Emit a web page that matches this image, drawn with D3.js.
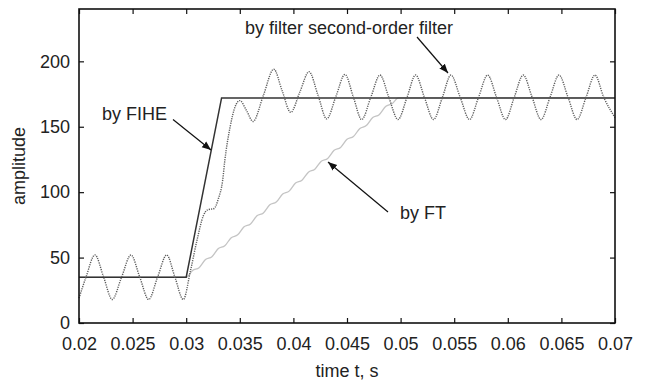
<!DOCTYPE html>
<html><head><meta charset="utf-8">
<script src="https://cdn.jsdelivr.net/npm/d3@7/dist/d3.min.js"></script>
<style>
html,body{margin:0;padding:0;background:#fff;}
svg text{font-family:"Liberation Sans",Arial,Helvetica,sans-serif;}
</style></head>
<body><svg id="c" width="646" height="381"></svg>
<script>
// ---- data ----
const xTicks = [0.02,0.025,0.03,0.035,0.04,0.045,0.05,0.055,0.06,0.065,0.07];
const yTicks = [0,50,100,150,200];

const fiheT = [0.02,0.03,0.0333,0.07];
const fiheV = [35,35,172,172];

const filterT = [0.0200,0.02065,0.02149,0.0223,0.0231,0.02397,0.02485,0.02567,0.0265,0.02733,0.02818,0.02895,0.02973,
  0.0304,0.0310,0.0316,0.0320,0.0326,0.0330,0.0334,0.0336,0.0341,0.03455,0.0350,0.03565,0.03623,0.0372,0.03817,
  0.03895,0.03975,0.0406,0.04146,0.0423,0.04311,0.04396,0.04481,0.0456,0.04637,0.04722,0.04808,0.0489,0.04976,
  0.0506,0.0514,0.05222,0.05307,0.0539,0.0547,0.05556,0.05643,0.05727,0.05812,0.05895,0.05979,0.0606,0.06144,
  0.06227,0.0631,0.06394,0.06478,0.06562,0.06646,0.0673,0.06813,0.06895,0.0700];
const filterV = [19,35,52,35,18,35,52,35,18,35,52,35,18,
  40,63,82,86.5,87.5,95,109,124,150,165,170,162,154,174,194,
  177.5,161,176.5,192,174,156,173,190,172.5,155.5,172.5,189.5,172.5,155.5,
  172.5,189.5,172.5,155.5,172.5,189.5,172.5,155.5,172.5,189.5,172.5,155.5,172.5,189.5,
  172.5,155.5,172.5,189.5,172.5,155.5,172.5,189.5,172.5,157];

const ftT = [0.0200,0.0300,0.0306,0.0312,0.0318,0.0324,0.0330,0.0336,0.0342,0.0348,0.0354,0.0360,0.0366,0.0372,
  0.0378,0.0384,0.0390,0.0396,0.0402,0.0408,0.0414,0.0420,0.0426,0.0432,0.0438,0.0444,0.0450,0.0456,0.0462,
  0.0468,0.0474,0.0480,0.0486,0.0492,0.0498,0.0700];
const ftV = [35,35,40.2,42.3,48.5,50.7,56.9,59.0,65.2,67.4,73.6,75.7,81.9,84.1,
  90.3,92.4,98.6,100.8,107.0,109.1,115.3,117.5,123.7,125.8,132.0,134.2,140.4,142.5,148.7,
  150.9,157.1,159.2,165.4,167.6,172,172];

const labels = [
  {text:"by FIHE", x:102, y:120, ax1:173, ay1:119.5, ax2:211, ay2:150},
  {text:"by filter second-order filter", x:245, y:34, ax1:417, ay1:37, ax2:448, ay2:73},
  {text:"by FT", x:400, y:219, ax1:388, ay1:212, ax2:328, ay2:162}
];

// ---- layout ----
const L=79, R=615, T=9, B=323;
const svg = d3.select("#c");
const x = d3.scaleLinear().domain([0.02,0.07]).range([L,R]);
const y = d3.scaleLinear().domain([0,240]).range([B,T]);
const zip = (a,b)=>a.map((v,i)=>[v,b[i]]);
const mk = c => d3.line().x(d=>x(d[0])).y(d=>y(d[1])).curve(c);

const g = svg.append("g");
g.append("path").attr("d", mk(d3.curveMonotoneX)(zip(ftT,ftV)))
  .attr("fill","none").attr("stroke","#c4c4c4").attr("stroke-width",1.3);
g.append("path").attr("d", mk(d3.curveLinear)(zip(fiheT,fiheV)))
  .attr("fill","none").attr("stroke","#333").attr("stroke-width",1.5);
g.append("path").attr("d", mk(d3.curveMonotoneX)(zip(filterT,filterV)))
  .attr("fill","none").attr("stroke","#5c5c5c").attr("stroke-width",1.4)
  .attr("stroke-dasharray","1.2,1.1");

// axes
const fmt = d=>String(d);
const axB = svg.append("g").attr("transform",`translate(0,${B})`)
  .call(d3.axisBottom(x).tickValues(xTicks).tickFormat(fmt).tickSizeInner(-5).tickSizeOuter(0).tickPadding(14));
const axT = svg.append("g").attr("transform",`translate(0,${T})`)
  .call(d3.axisTop(x).tickValues(xTicks).tickFormat("").tickSizeInner(-5).tickSizeOuter(0));
const axL = svg.append("g").attr("transform",`translate(${L},0)`)
  .call(d3.axisLeft(y).tickValues(yTicks).tickFormat(fmt).tickSizeInner(-5).tickSizeOuter(0).tickPadding(9));
const axR = svg.append("g").attr("transform",`translate(${R},0)`)
  .call(d3.axisRight(y).tickValues(yTicks).tickFormat("").tickSizeInner(-5).tickSizeOuter(0));
[axB,axT,axL,axR].forEach(a=>{
  a.select(".domain").remove();
  a.selectAll("line").attr("stroke","#111").attr("stroke-width",1.2);
  a.selectAll("text").attr("font-size",18).attr("fill","#222")
   .attr("font-family","'Liberation Sans',Arial,sans-serif");
});
svg.append("rect").attr("x",L).attr("y",T).attr("width",R-L).attr("height",B-T)
  .attr("fill","none").attr("stroke","#111").attr("stroke-width",1.6);

// axis titles
svg.append("text").attr("x",(L+R)/2).attr("y",377).attr("text-anchor","middle")
  .attr("font-size",18).attr("fill","#222").text("time t, s");
svg.append("text").attr("transform",`translate(25,${(T+B)/2}) rotate(-90)`)
  .attr("text-anchor","middle").attr("font-size",18).attr("fill","#222").text("amplitude");

// annotations
svg.append("defs").append("marker").attr("id","ah").attr("viewBox","0 0 10 10")
  .attr("refX",10).attr("refY",5).attr("markerWidth",9).attr("markerHeight",9)
  .attr("markerUnits","userSpaceOnUse").attr("orient","auto")
  .append("path").attr("d","M0,1 L10,5 L0,9 Z").attr("fill","#111");
labels.forEach(l=>{
  svg.append("text").attr("x",l.x).attr("y",l.y).attr("font-size",18).attr("fill","#222").text(l.text);
  svg.append("line").attr("x1",l.ax1).attr("y1",l.ay1).attr("x2",l.ax2).attr("y2",l.ay2)
    .attr("stroke","#111").attr("stroke-width",1.2).attr("marker-end","url(#ah)");
});
</script></body></html>
